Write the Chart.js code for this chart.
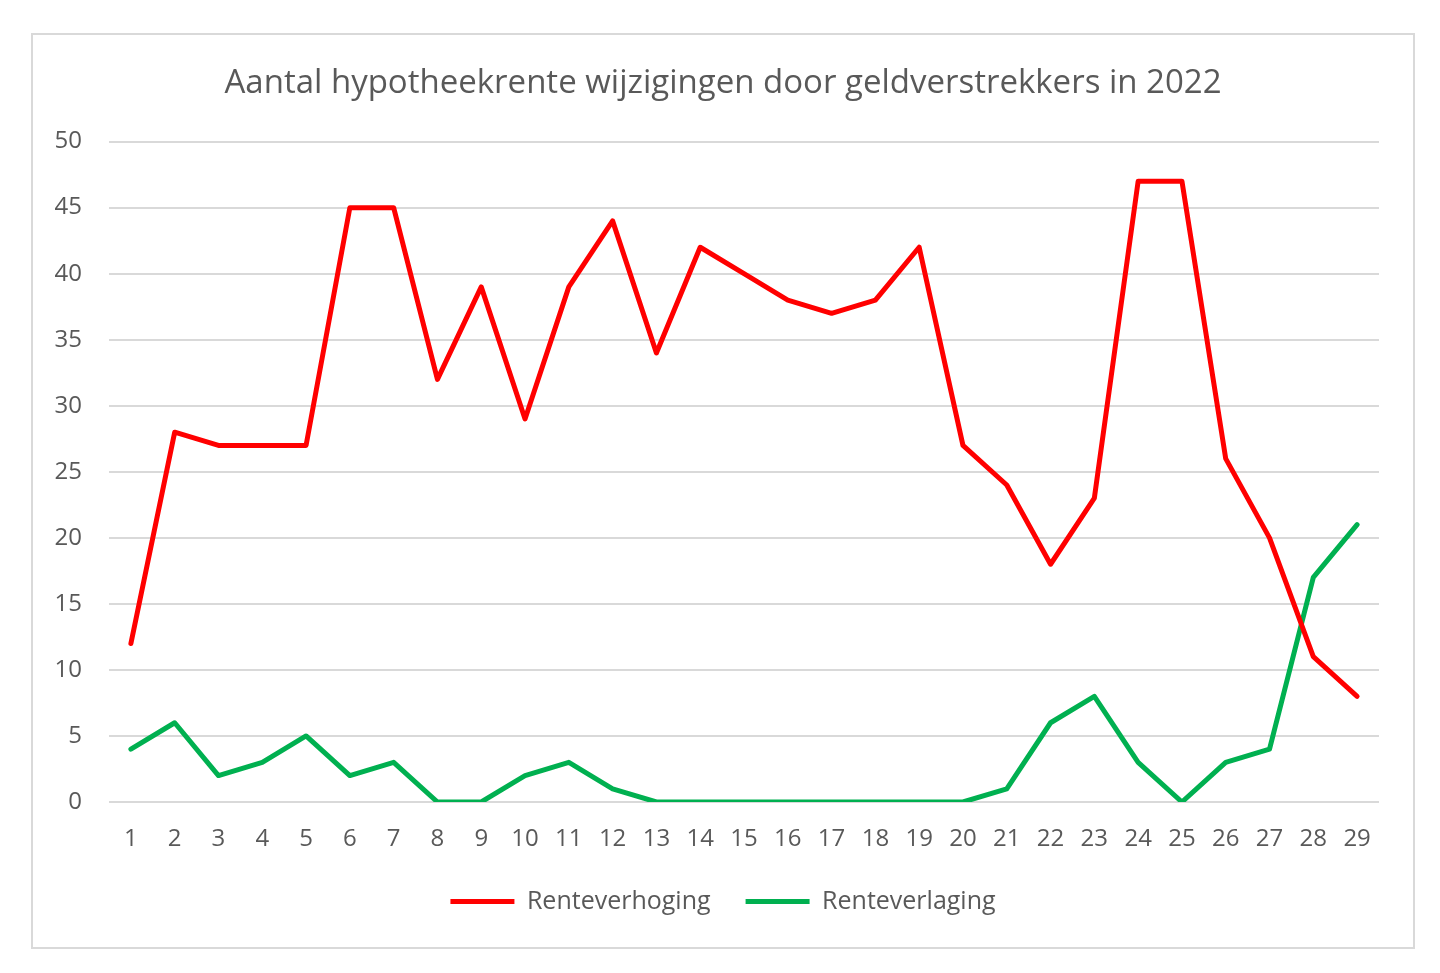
<!DOCTYPE html>
<html>
<head>
<meta charset="utf-8">
<script src="https://cdn.jsdelivr.net/npm/chart.js@4.4.1/dist/chart.umd.min.js"></script>
<style>
  html, body { margin: 0; padding: 0; background: #fff; }
  #box {
    position: absolute; left: 31px; top: 33px;
    width: 1380px; height: 912px;
    border: 2px solid #d9d9d9; background: #fff;
  }
</style>
</head>
<body>
<div id="box"><canvas id="chart" width="1380" height="912"></canvas></div>
<script>
// weken 1 t/m 29
const weken = ['1','2','3','4','5','6','7','8','9','10','11','12','13','14','15',
  '16','17','18','19','20','21','22','23','24','25','26','27','28','29'];

const verhoging = [12, 28, 27, 27, 27, 45, 45, 32, 39, 29, 39, 44, 34, 42, 40,
  38, 37, 38, 42, 27, 24, 18, 23, 47, 47, 26, 20, 11, 8];

const verlaging = [4, 6, 2, 3, 5, 2, 3, 0, 0, 2, 3, 1, 0, 0, 0,
  0, 0, 0, 0, 0, 1, 6, 8, 3, 0, 3, 4, 17, 21];

const yTicks = [0, 5, 10, 15, 20, 25, 30, 35, 40, 45, 50];

const tekstKleur = '#595959';
const lettertype = '"Open Sans", Lato, sans-serif';

// titel en legenda over de hele breedte centreren (zoals in Excel)
const centreerBlokken = {
  id: 'centreerBlokken',
  afterLayout(chart) {
    [chart.titleBlock, chart.legend].forEach(function (blok) {
      if (blok) {
        blok.left = 0;
        blok.right = chart.width;
        blok.width = chart.width;
      }
    });
  }
};

const ctx = document.getElementById('chart');
new Chart(ctx, {
  type: 'line',
  data: {
    labels: weken,
    datasets: [{
      label: 'Renteverhoging',
      data: verhoging,
      borderColor: '#ff0000',
      backgroundColor: '#ff0000',
      borderWidth: 5,
      pointRadius: 0,
      tension: 0,
      borderJoinStyle: 'round',
      borderCapStyle: 'round'
    }, {
      label: 'Renteverlaging',
      data: verlaging,
      borderColor: '#00b050',
      backgroundColor: '#00b050',
      borderWidth: 5,
      pointRadius: 0,
      tension: 0,
      borderJoinStyle: 'round',
      borderCapStyle: 'round'
    }]
  },
  plugins: [centreerBlokken],
  options: {
    responsive: false,
    animation: false,
    layout: { padding: { left: 10, right: 34, top: 0, bottom: 23 } },
    plugins: {
      title: {
        display: true,
        text: 'Aantal hypotheekrente wijzigingen door geldverstrekkers in 2022',
        color: tekstKleur,
        font: { family: lettertype, size: 33, weight: 'normal' },
        padding: { top: 29, bottom: 38 }
      },
      legend: {
        position: 'bottom',
        labels: {
          color: tekstKleur,
          font: { family: lettertype, size: 25 },
          usePointStyle: true,
          pointStyle: 'line',
          pointStyleWidth: 64,
          padding: 35
        }
      },
      tooltip: { enabled: false }
    },
    scales: {
      x: {
        offset: true,
        afterFit: function (scale) { scale.height = 52; },
        grid: { display: false, drawTicks: false },
        border: { display: false },
        ticks: {
          color: tekstKleur,
          font: { family: lettertype, size: 24 },
          padding: 23,
          maxRotation: 0,
          autoSkip: false
        }
      },
      y: {
        min: 0,
        max: 50,
        afterBuildTicks: function (scale) {
          scale.ticks = yTicks.map(v => ({ value: v }));
        },
        afterFit: function (scale) { scale.width = 66; },
        grid: { color: '#d9d9d9', lineWidth: 2, drawTicks: false },
        border: { display: false },
        ticks: {
          color: tekstKleur,
          font: { family: lettertype, size: 24 },
          padding: 27
        }
      }
    }
  }
});
</script>
</body>
</html>
